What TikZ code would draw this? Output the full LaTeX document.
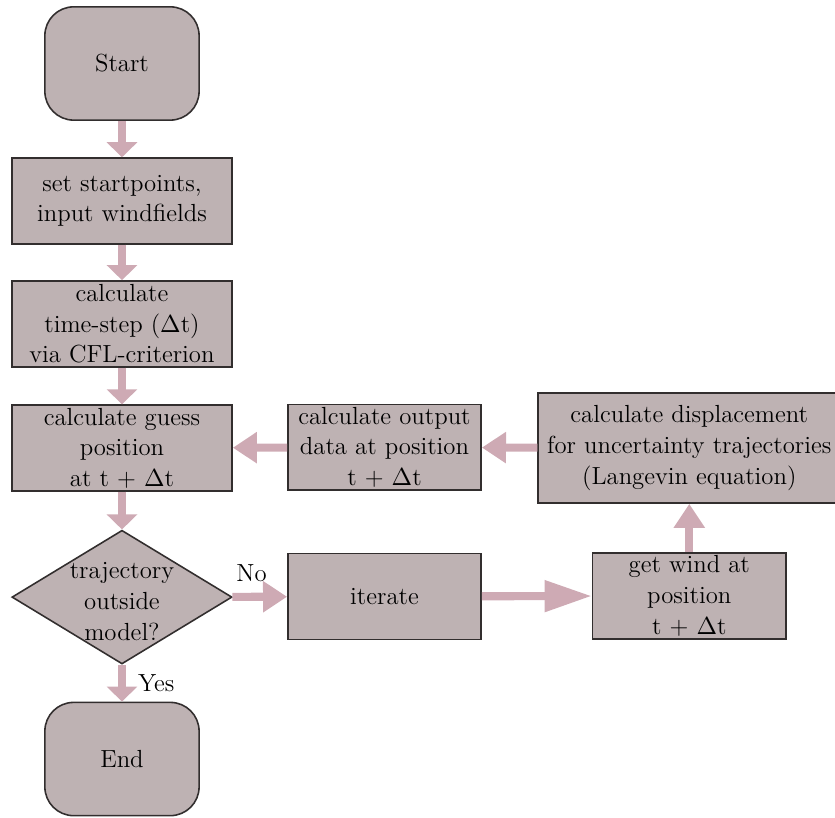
\documentclass[tikz,border=0pt]{standalone}
\usetikzlibrary{
    arrows.meta,
    positioning,
    shapes.geometric
}
\definecolor{boxfill}{RGB}{190,178,179}
\definecolor{boxline}{RGB}{50,46,46}
\definecolor{arrowpink}{RGB}{206,170,180}
\newcommand{\flowfont}{\fontsize{11}{13.6}\selectfont}
\tikzset{
    % Box styles
    terminal box/.style={
        draw=boxline,
        fill=boxfill,
        line width=0.7pt,
        rectangle,
        rounded corners=0.45cm,
        minimum width=2.41cm,
        minimum height=1.77cm,
        align=center,
        font=\flowfont
    },
    process box/.style={
        draw=boxline,
        fill=boxfill,
        line width=0.7pt,
        rectangle,
        inner sep=1pt,
        minimum height=1.34cm,
        align=center,
        font=\flowfont
    },
    decision box/.style={
        draw=boxline,
        fill=boxfill,
        line width=0.7pt,
        diamond,
        inner sep=0pt,
        minimum width=3.44cm,
        minimum height=2.09cm
    },
    % Arrow styles
    flow arrow/.style={
        -{Triangle[length=#1,width=13.3pt]},
        line width=3.6pt,
        arrowpink
    },
    flow arrow/.default=10.7pt,
    flow label/.style={
        text=black,
        font=\flowfont
    }
}

\begin{document}
\begin{tikzpicture}
    \useasboundingbox (0,0) rectangle (13.047,-12.766);

    % Main column
    \node[terminal box] at (1.906,-0.992) (start) {Start};
    \node[process box, minimum width=3.44cm] at (1.906,-3.14) (input) {set startpoints,\\input windfields};
    \node[process box, minimum width=3.44cm] at (1.906,-5.06) (timestep) {calculate\\time-step ($\Delta$t)\\via CFL-criterion};
    \node[process box, minimum width=3.44cm] at (1.906,-7.0) (guess) {calculate guess\\position\\at t + $\Delta$t};
    \node[decision box, label={[align=center, font=\flowfont, yshift=-2pt]center:trajectory\\outside\\model?}] at (1.906,-9.33) (check) {};
    \node[terminal box] at (1.906,-11.86) (end) {End};

    % Iteration loop
    \node[process box, minimum width=3.02cm] at (6.008,-6.99) (output) {calculate output\\data at position\\t + $\Delta$t};
    \node[process box, minimum width=4.72cm, minimum height=1.72cm] at (10.77,-7.0) (displace) {calculate displacement\\for uncertainty trajectories\\(Langevin equation)};
    \node[process box, minimum width=3.02cm] at (6.008,-9.32) (iterate) {iterate};
    \node[process box, minimum width=3.02cm] at (10.77,-9.31) (wind) {get wind at\\position\\t + $\Delta$t};

    % Connections
    \foreach \a/\b in {start/input, input/timestep, timestep/guess, guess/check} {
        \draw[flow arrow=6.7pt] (\a) -- (\b);
    }
    \draw[flow arrow=6.7pt] (check) -- (end)
        node[midway, right=2pt, flow label] {Yes};
    \draw[flow arrow] (check) -- (iterate)
        node[at start, above right, inner sep=4pt, xshift=-4pt, yshift=1pt, flow label] {No};
    \draw[flow arrow=21pt] (iterate) -- (wind);
    \draw[flow arrow] (wind.north) -- (wind.north |- displace.south);
    \draw[flow arrow] (displace) -- (output);
    \draw[flow arrow] (output) -- (guess);
\end{tikzpicture}
\end{document}
